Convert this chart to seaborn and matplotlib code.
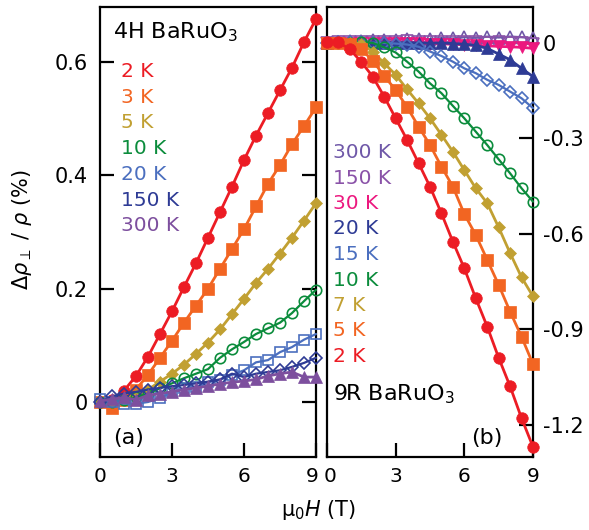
import numpy as np
import pandas as pd
import matplotlib
matplotlib.use("Agg")
import matplotlib.pyplot as plt
import matplotlib.transforms as mtransforms
import seaborn as sns

# ---------------- data ----------------
field = [0, 0.5, 1, 1.5, 2, 2.5, 3, 3.5, 4, 4.5, 5, 5.5, 6, 6.5, 7, 7.5, 8, 8.5, 9]

# panel (a) 4H BaRuO3
h4_2K = [0, 0.003, 0.02, 0.046, 0.08, 0.12, 0.16, 0.203, 0.245, 0.29, 0.335, 0.38, 0.427, 0.47, 0.51, 0.55, 0.59, 0.635, 0.676]
h4_3K = [0, -0.01, 0.003, 0.022, 0.048, 0.078, 0.108, 0.14, 0.17, 0.2, 0.235, 0.27, 0.305, 0.345, 0.385, 0.418, 0.455, 0.487, 0.52]
h4_5K = [0, 0, 0.004, 0.012, 0.022, 0.036, 0.05, 0.066, 0.085, 0.105, 0.128, 0.155, 0.182, 0.21, 0.235, 0.262, 0.29, 0.32, 0.351]
h4_10K = [0, 0, 0.003, 0.008, 0.015, 0.024, 0.033, 0.042, 0.05, 0.058, 0.078, 0.093, 0.106, 0.12, 0.13, 0.14, 0.157, 0.178, 0.198]
h4_20K = [0.005, 0, -0.003, -0.003, 0, 0.007, 0.017, 0.024, 0.027, 0.035, 0.039, 0.048, 0.056, 0.07, 0.074, 0.088, 0.097, 0.11, 0.12]
h4_150K = [0, 0.01, 0.015, 0.018, 0.022, 0.025, 0.028, 0.03, 0.033, 0.036, 0.04, 0.05, 0.044, 0.05, 0.053, 0.056, 0.062, 0.069, 0.078]
h4_300K = [0.002, 0.005, 0.008, 0.004, 0.012, 0.015, 0.018, 0.022, 0.025, 0.028, 0.032, 0.035, 0.037, 0.04, 0.046, 0.05, 0.053, 0.044, 0.044]

# panel (b) 9R BaRuO3
r9_2K = [0.002, 0.002, -0.02, -0.06, -0.106, -0.169, -0.237, -0.305, -0.378, -0.452, -0.536, -0.625, -0.709, -0.803, -0.892, -0.99, -1.08, -1.18, -1.27]
r9_5K = [0, 0, -0.002, -0.02, -0.056, -0.104, -0.148, -0.202, -0.263, -0.321, -0.389, -0.452, -0.538, -0.604, -0.682, -0.761, -0.845, -0.924, -1.01]
r9_7K = [0, 0, 0, -0.003, -0.027, -0.064, -0.1, -0.146, -0.19, -0.237, -0.289, -0.342, -0.4, -0.457, -0.504, -0.58, -0.661, -0.737, -0.797]
r9_10K = [0, 0, 0, 0.002, 0.0, -0.014, -0.03, -0.059, -0.09, -0.127, -0.158, -0.198, -0.237, -0.279, -0.321, -0.366, -0.41, -0.457, -0.499]
r9_15K = [0, 0.003, 0.002, 0.003, 0.001, 0, -0.002, -0.005, -0.012, -0.027, -0.041, -0.059, -0.08, -0.095, -0.116, -0.132, -0.153, -0.174, -0.205]
r9_20K = [0, 0.002, 0.001, 0.002, 0, 0.001, 0, 0.001, 0, -0.001, 0.0, -0.002, -0.004, -0.008, -0.017, -0.035, -0.053, -0.08, -0.106]
r9_30K = [0, 0.001, 0, 0.001, 0, -0.001, 0, -0.001, 0, -0.002, -0.003, -0.004, -0.006, -0.008, -0.009, -0.011, -0.012, -0.014, -0.017]
r9_150K = [0, 0.002, 0.003, 0.002, 0.004, 0.002, 0.003, 0.005, 0.002, 0.003, 0.004, 0.002, 0.003, 0.002, 0.001, 0.002, 0.0, -0.001, -0.003]
r9_300K = [0, 0.003, 0.005, 0.006, 0.008, 0.01, 0.01, 0.012, 0.013, 0.012, 0.015, 0.014, 0.018, 0.016, 0.02, 0.017, 0.02, 0.018, 0.015]

labels_a = ["2 K", "3 K", "5 K", "10 K", "20 K", "150 K", "300 K"]
labels_b = ["300 K", "150 K", "30 K", "20 K", "15 K", "10 K", "7 K", "5 K", "2 K"]

xticks = [0, 3, 6, 9]
yticks_a = [0, 0.2, 0.4, 0.6]
yticks_b = [0, -0.3, -0.6, -0.9, -1.2]

# ---------------- style ----------------
RED = "#ec1c24"
ORANGE = "#f26522"
GOLD = "#c1a032"
GREEN = "#0b8c3c"
LBLUE = "#4b6fbf"
DBLUE = "#2e3b95"
PURPLE = "#7d4f9e"
VIOLET = "#6f58a8"
PURPLE2 = "#8a52a8"
MAGENTA = "#ec187f"

sns.set_theme(style="ticks")
plt.rcParams["font.family"] = ["DejaVu Sans"]
plt.rcParams["mathtext.fontset"] = "dejavusans"
plt.rcParams["axes.unicode_minus"] = False
plt.rcParams["text.color"] = "black"
plt.rcParams["axes.labelcolor"] = "black"
plt.rcParams["xtick.color"] = "black"
plt.rcParams["ytick.color"] = "black"
plt.rcParams["axes.edgecolor"] = "black"

fig = plt.figure(figsize=(5.89, 5.30), dpi=100)
W, H = 589.0, 530.0
ax1 = fig.add_axes([100 / W, 1 - 457 / H, 216 / W, 450 / H])
ax2 = fig.add_axes([327 / W, 1 - 457 / H, 206 / W, 450 / H])


def draw(ax, vals, color, marker, filled, ms=7.5, lw=2.0, z=3):
    df = pd.DataFrame({"H": field, "v": vals})
    sns.lineplot(data=df, x="H", y="v", ax=ax, color=color, linewidth=lw,
                 marker=marker, markersize=ms,
                 markerfacecolor=color if filled else "none",
                 markeredgecolor=color, markeredgewidth=1.2 if not filled else 0.5,
                 clip_on=False, zorder=z)


# panel (a)
series_a = [
    (h4_2K, RED, "o", True, 8.3),
    (h4_3K, ORANGE, "s", True, 8.0),
    (h4_5K, GOLD, "D", True, 6.5),
    (h4_10K, GREEN, "o", False, 7.5),
    (h4_20K, LBLUE, "s", False, 7.5),
    (h4_150K, DBLUE, "D", False, 6.3),
    (h4_300K, PURPLE, "^", True, 8.5),
]
for i, (v, c, m, f, ms) in enumerate(series_a):
    draw(ax1, v, c, m, f, ms=ms, lw=2.0 if f else 1.6, z=3 + i)

# panel (b)
series_b = [
    (r9_300K, VIOLET, "^", False, 8.0),
    (r9_150K, PURPLE2, "v", False, 8.0),
    (r9_30K, MAGENTA, "v", True, 8.5),
    (r9_20K, DBLUE, "^", True, 8.5),
    (r9_15K, LBLUE, "D", False, 6.3),
    (r9_10K, GREEN, "o", False, 7.5),
    (r9_7K, GOLD, "D", True, 6.5),
    (r9_5K, ORANGE, "s", True, 8.0),
    (r9_2K, RED, "o", True, 8.3),
]
for i, (v, c, m, f, ms) in enumerate(series_b):
    draw(ax2, v, c, m, f, ms=ms, lw=2.0 if f else 1.6, z=3 + i)

# axes formatting
for ax in (ax1, ax2):
    ax.set_xlim(0, 9)
    ax.set_xticks(xticks)
    ax.set_xticklabels([str(t) for t in xticks])
    ax.set_xlabel("")
    ax.set_ylabel("")
    for s in ax.spines.values():
        s.set_linewidth(1.6)
        s.set_color("black")
        s.set_visible(True)
    ax.tick_params(axis="x", direction="in", length=10, width=1.6, pad=7,
                   labelsize=14.5, top=False, bottom=True, colors="black")

ax1.set_ylim(-0.097, 0.697)
ax1.set_yticks(yticks_a)
ax1.set_yticklabels(["0", "0.2", "0.4", "0.6"])
ax1.tick_params(axis="y", direction="in", length=10, width=1.6, pad=9,
                labelsize=15, left=True, right=True, labelleft=True, labelright=False,
                colors="black")

ax2.set_ylim(-1.302, 0.113)
ax2.set_yticks(yticks_b)
ax2.set_yticklabels(["0", "-0.3", "-0.6", "-0.9", "-1.2"])
ax2.tick_params(axis="y", direction="in", length=10, width=1.6, pad=7,
                labelsize=15, left=False, right=True, labelleft=False, labelright=True,
                colors="black")

# nudge the touching "9" / "0" labels apart as in the reference
lab9 = ax1.get_xticklabels()[-1]
lab9.set_transform(lab9.get_transform() +
                   mtransforms.ScaledTranslation(-3.5 / 100, 0, fig.dpi_scale_trans))
lab0 = ax2.get_xticklabels()[0]
lab0.set_transform(lab0.get_transform() +
                   mtransforms.ScaledTranslation(3.5 / 100, 0, fig.dpi_scale_trans))

# panel texts
ax1.text(0.06, (457 - 38) / 450, r"4H BaRuO$_3$", transform=ax1.transAxes,
         fontsize=16, va="baseline", ha="left", color="black")
cols_a = [RED, ORANGE, GOLD, GREEN, LBLUE, DBLUE, PURPLE]
for i, (lab, c) in enumerate(zip(labels_a, cols_a)):
    yb = 77 + 25.7 * i
    ax1.text(0.097, (457 - yb) / 450, lab, transform=ax1.transAxes,
             fontsize=14.5, va="baseline", ha="left", color=c)
ax1.text(0.06, (457 - 444) / 450, "(a)", transform=ax1.transAxes,
         fontsize=16, va="baseline", ha="left", color="black")

cols_b = [VIOLET, PURPLE2, MAGENTA, DBLUE, LBLUE, GREEN, GOLD, ORANGE, RED]
for i, (lab, c) in enumerate(zip(labels_b, cols_b)):
    yb = 158 + 25.5 * i
    ax2.text(0.03, (457 - yb) / 450, lab, transform=ax2.transAxes,
             fontsize=14.5, va="baseline", ha="left", color=c)
ax2.text(0.03, (457 - 400) / 450, r"9R BaRuO$_3$", transform=ax2.transAxes,
         fontsize=16, va="baseline", ha="left", color="black")
ax2.text(0.70, (457 - 444) / 450, "(b)", transform=ax2.transAxes,
         fontsize=16, va="baseline", ha="left", color="black")

# axis labels
fig.text(22 / W, 1 - 230 / H, r"$\Delta\rho_{\perp}$ / $\rho$ (%)", rotation=90,
         ha="center", va="center", fontsize=15, color="black")
fig.text(318 / W, 1 - 510 / H, r"μ$_0$$H$ (T)", ha="center", va="center",
         fontsize=15, color="black")

fig.savefig("out.png", dpi=100)
